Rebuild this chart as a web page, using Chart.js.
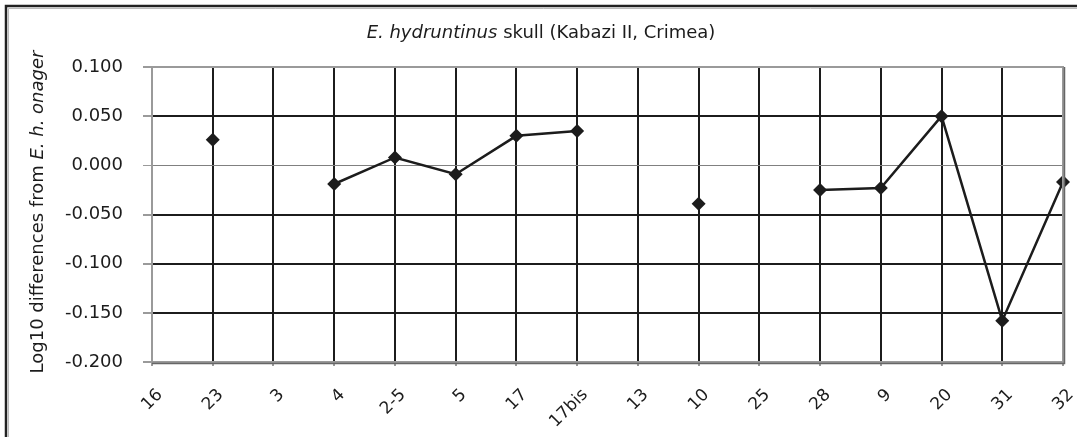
<!DOCTYPE html>
<html>
<head>
<meta charset="utf-8">
<script src="https://cdn.jsdelivr.net/npm/chart.js@4"></script>
<style>
  html, body { margin: 0; padding: 0; background: #fff; overflow: hidden; }
  #wrap { position: relative; width: 1077px; height: 437px; }
</style>
</head>
<body>
<div id="wrap"><canvas id="chart"></canvas></div>
<script>
// skull measurement codes along the x axis
const categories = ['16', '23', '3', '4', '2-5', '5', '17', '17bis', '13', '10', '25', '28', '9', '20', '31', '32'];
// log10 differences, null where no value is plotted
const logDiffs = [null, 0.026, null, -0.019, 0.008, -0.009, 0.030, 0.035, null, -0.039, null, -0.025, -0.023, 0.050, -0.158, -0.017];
const yMin = -0.2;
const yMax = 0.1;
const yStep = 0.05;

const FONT = 'DejaVu Sans';
const INK = '#1c1c1c';
const AXIS_GRAY = '#9a9a9a';

// draws the italic/plain title, the y axis title, outer frame and plot frame
const decorPlugin = {
    id: 'decor',
    beforeDraw(chart) {
        const ctx = chart.ctx;
        ctx.save();
        // outer frame (runs off to the right and bottom)
        ctx.strokeStyle = '#222';
        ctx.lineWidth = 2.5;
        ctx.beginPath();
        ctx.moveTo(6, 440);
        ctx.lineTo(6, 6);
        ctx.lineTo(1080, 6);
        ctx.stroke();
        ctx.strokeStyle = '#bbb';
        ctx.lineWidth = 1;
        ctx.beginPath();
        ctx.moveTo(8.5, 440);
        ctx.lineTo(8.5, 8.5);
        ctx.lineTo(1080, 8.5);
        ctx.stroke();
        ctx.restore();
    },
    afterDraw(chart) {
        const ctx = chart.ctx;
        const area = chart.chartArea;
        ctx.save();

        // plot frame, grey with a darker shadow bottom/right
        ctx.strokeStyle = AXIS_GRAY;
        ctx.lineWidth = 2;
        ctx.strokeRect(area.left, area.top, area.right - area.left, area.bottom - area.top);
        ctx.strokeStyle = '#666';
        ctx.lineWidth = 1.5;
        ctx.beginPath();
        ctx.moveTo(area.left, area.bottom + 1.5);
        ctx.lineTo(area.right + 1.5, area.bottom + 1.5);
        ctx.lineTo(area.right + 1.5, area.top);
        ctx.stroke();

        // title with italic species name
        const titleParts = [['italic', 'E. hydruntinus'], ['normal', ' skull (Kabazi II, Crimea)']];
        drawMixed(ctx, titleParts, 541, 33, 18);

        // y axis title, rotated
        ctx.translate(38, 212);
        ctx.rotate(-Math.PI / 2);
        const yParts = [['normal', 'Log10 differences from '], ['italic', 'E. h. onager']];
        drawMixed(ctx, yParts, 0, 0, 18);
        ctx.restore();
    }
};

function drawMixed(ctx, parts, cx, cy, size) {
    let total = 0;
    parts.forEach(p => {
        ctx.font = p[0] + ' ' + size + 'px "' + FONT + '"';
        total += ctx.measureText(p[1]).width;
    });
    let x = cx - total / 2;
    ctx.fillStyle = INK;
    ctx.textBaseline = 'middle';
    ctx.textAlign = 'left';
    parts.forEach(p => {
        ctx.font = p[0] + ' ' + size + 'px "' + FONT + '"';
        ctx.fillText(p[1], x, cy);
        x += ctx.measureText(p[1]).width;
    });
}

const chart = new Chart(document.getElementById('chart'), {
    type: 'line',
    data: {
        labels: categories,
        datasets: [{
            data: logDiffs,
            borderColor: INK,
            borderWidth: 2.5,
            pointStyle: 'rectRot',
            pointRadius: 7,
            pointBackgroundColor: INK,
            pointBorderColor: INK,
            pointBorderWidth: 0,
            spanGaps: false,
            tension: 0
        }]
    },
    options: {
        responsive: true,
        maintainAspectRatio: false,
        animation: false,
        events: [],
        layout: { padding: { top: 67, left: 0, right: 14, bottom: 0 } },
        plugins: {
            legend: { display: false },
            tooltip: { enabled: false },
            title: { display: false }
        },
        scales: {
            x: {
                offset: false,
                afterFit(scale) {
                    scale.height = 75;
                    scale.paddingLeft = 0;
                    scale.paddingRight = 0;
                },
                grid: {
                    color: INK,
                    lineWidth: 2,
                    drawTicks: true,
                    tickLength: 4,
                    tickColor: AXIS_GRAY
                },
                border: { color: AXIS_GRAY, width: 2 },
                ticks: {
                    autoSkip: false,
                    minRotation: 45,
                    maxRotation: 45,
                    labelOffset: 8,
                    padding: 19,
                    color: INK,
                    font: { family: FONT, size: 17 }
                }
            },
            y: {
                min: yMin,
                max: yMax,
                afterFit(scale) { scale.width = 152; },
                grid: {
                    color: ctx => (ctx.tick && Math.abs(ctx.tick.value) < 1e-9) ? '#808080' : INK,
                    lineWidth: ctx => (ctx.tick && Math.abs(ctx.tick.value) < 1e-9) ? 1 : 2,
                    drawTicks: true,
                    tickLength: 9,
                    tickColor: AXIS_GRAY
                },
                border: { color: AXIS_GRAY, width: 2 },
                ticks: {
                    stepSize: yStep,
                    padding: 20,
                    color: INK,
                    font: { family: FONT, size: 18 },
                    callback: v => v.toFixed(3)
                }
            }
        }
    },
    plugins: [decorPlugin]
});
</script>
</body>
</html>
